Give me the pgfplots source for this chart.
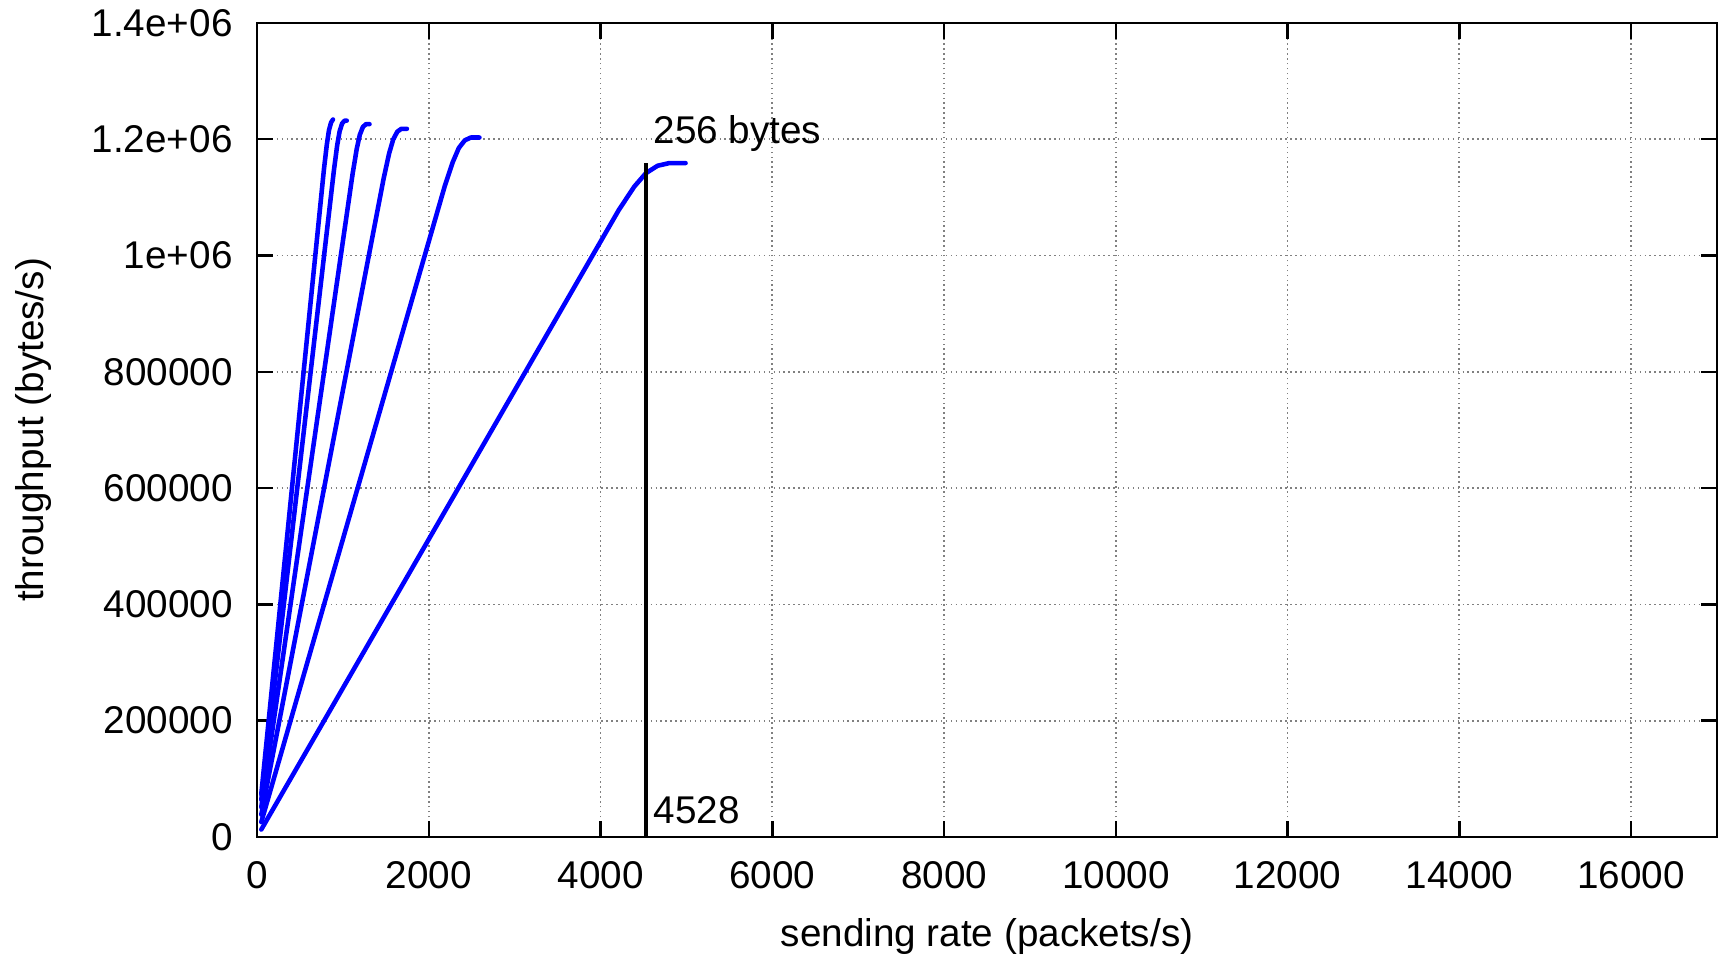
\documentclass[border=0pt]{standalone}
\usepackage{fontspec}
\setmainfont{Liberation Sans}
\usepackage{pgfplots}
\pgfplotsset{compat=1.18}
\begin{document}
\begin{tikzpicture}
\begin{axis}[
  scale only axis,
  width=14.6cm, height=8.14cm,
  xmin=0, xmax=17000, ymin=0, ymax=1400000,
  xtick={0,2000,4000,6000,8000,10000,12000,14000,16000},
  xticklabels={0,2000,4000,6000,8000,10000,12000,14000,16000},
  ytick={0,200000,400000,600000,800000,1000000,1200000,1400000},
  yticklabels={0,200000,400000,600000,800000,1e+06,1.2e+06,1.4e+06},
  scaled ticks=false,
  tick align=inside,
  major tick length=0.16cm,
  tick style={black, line width=0.7pt},
  axis line style={line width=0.8pt},
  grid=major,
  grid style={densely dotted, gray, line width=0.5pt},
  ticklabel style={font=\fontsize{11}{13}\selectfont},
  xticklabel style={yshift=-0.12cm},
  yticklabel style={xshift=-0.12cm},
  label style={font=\fontsize{11}{13}\selectfont},
  xlabel={sending rate (packets/s)},
  ylabel={throughput (bytes/s)},
  xlabel style={yshift=-0.06cm},
  ylabel style={yshift=0.16cm},
  curve/.style={blue, no marks, line width=1.3pt, line join=round, line cap=round},
]
\addplot[curve] coordinates {(50,73600) (779,1147600) (813,1190800) (838,1215500) (863,1229100) (885,1234000)};
\addplot[curve] coordinates {(50,64000) (895,1145800) (933,1188900) (962,1213500) (991,1227100) (1020,1232000) (1045,1232000)};
\addplot[curve] coordinates {(50,51200) (1113,1140200) (1161,1183100) (1197,1207600) (1233,1221100) (1269,1226000) (1310,1226000)};
\addplot[curve] coordinates {(50,38400) (1475,1132700) (1538,1175400) (1586,1199700) (1634,1213100) (1681,1218000) (1745,1218000)};
\addplot[curve] coordinates {(50,25600) (2185,1118800) (2280,1160900) (2350,1185000) (2420,1198200) (2490,1203000) (2590,1203000)};
\addplot[curve] coordinates {(50,12800) (4211,1077900) (4392,1118400) (4528,1141600) (4664,1154400) (4800,1159000) (4990,1159000)};
\addplot[black, no marks, line width=1pt] coordinates {(4528,0) (4528,1159000)};
\node[anchor=south west, font=\fontsize{11}{13}\selectfont, inner sep=1pt, xshift=1pt, yshift=2.5pt] at (axis cs:4528,0) {4528};
\node[anchor=south west, font=\fontsize{11}{13}\selectfont, inner sep=1pt, xshift=1pt] at (axis cs:4528,1172000) {256 bytes};
\end{axis}
\pgfresetboundingbox
\path[use as bounding box] (current axis.south west) ++(-2.57cm,-1.2cm) rectangle ([shift={(0.08cm,0.23cm)}]current axis.north east);
\end{tikzpicture}
\end{document}
